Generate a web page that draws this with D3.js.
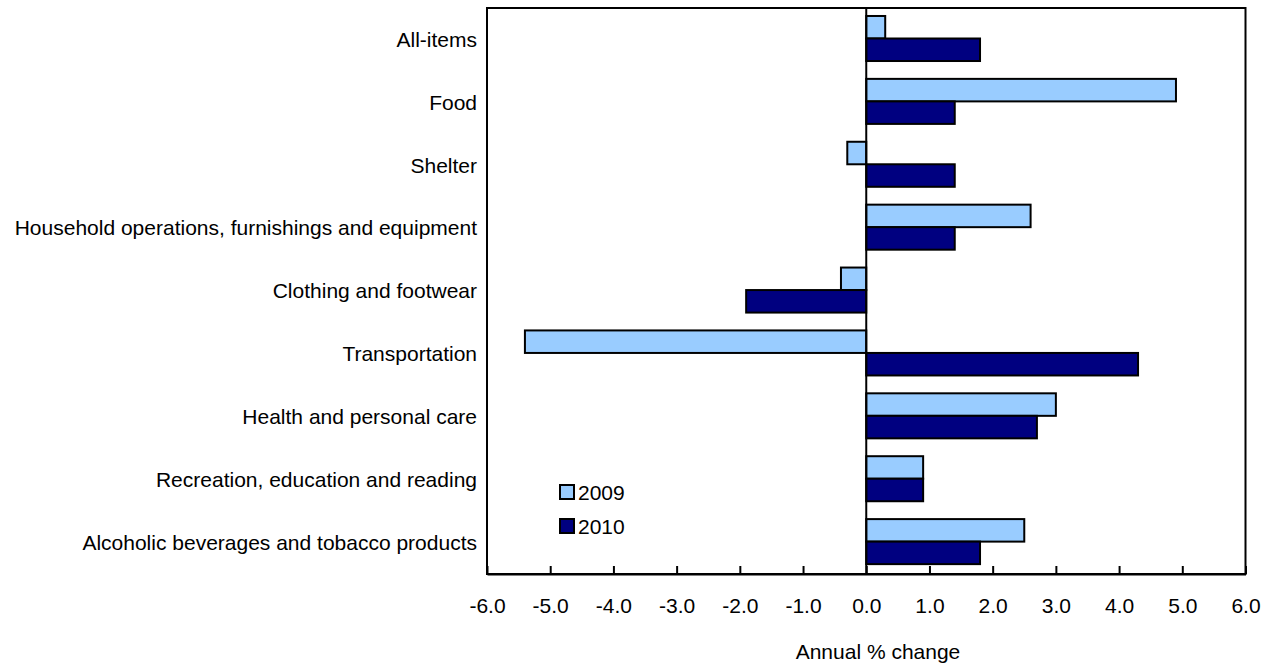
<!DOCTYPE html>
<html>
<head>
<meta charset="utf-8">
<script src="https://cdn.jsdelivr.net/npm/d3@7"></script>
<style>
  html, body { margin: 0; padding: 0; background: #fff; }
  svg { display: block; font-family: "Liberation Sans", Arial, Helvetica, sans-serif; }
</style>
</head>
<body>
<svg id="chart" width="1266" height="666"></svg>
<script>
const categories = [
  "All-items",
  "Food",
  "Shelter",
  "Household operations, furnishings and equipment",
  "Clothing and footwear",
  "Transportation",
  "Health and personal care",
  "Recreation, education and reading",
  "Alcoholic beverages and tobacco products"
];
const seriesNames = ["2009", "2010"];
const values2009 = [0.3, 4.9, -0.3, 2.6, -0.4, -5.4, 3.0, 0.9, 2.5];
const values2010 = [1.8, 1.4, 1.4, 1.4, -1.9, 4.3, 2.7, 0.9, 1.8];
const tickValues = [-6, -5, -4, -3, -2, -1, 0, 1, 2, 3, 4, 5, 6];
const tickLabels = ["-6.0", "-5.0", "-4.0", "-3.0", "-2.0", "-1.0", "0.0", "1.0", "2.0", "3.0", "4.0", "5.0", "6.0"];
const xTitle = "Annual % change";
const colors = ["#99ccff", "#000080"];

(function () {
const svg = d3.select("#chart");
const pLeft = 487, pRight = 1245.5, pTop = 8, pBottom = 574;

const x = d3.scaleLinear().domain([-6, 6]).range([pLeft, pRight]);
const y0 = d3.scaleBand().domain(categories).range([pTop, pBottom]).padding(0);
const bw = y0.bandwidth();
const y1 = d3.scaleBand().domain(seriesNames).range([bw * 0.127, bw * 0.843]).padding(0);

const data = categories.map((c, i) => ({ cat: c, vals: [values2009[i], values2010[i]] }));

// bars
const g = svg.append("g");
data.forEach(d => {
  d.vals.forEach((v, j) => {
    g.append("rect")
      .attr("x", x(Math.min(0, v)))
      .attr("width", Math.abs(x(v) - x(0)))
      .attr("y", y0(d.cat) + y1(seriesNames[j]))
      .attr("height", y1.bandwidth())
      .attr("fill", colors[j])
      .attr("stroke", "#000")
      .attr("stroke-width", 2);
  });
});

// zero line
svg.append("line")
  .attr("x1", x(0)).attr("x2", x(0))
  .attr("y1", pTop).attr("y2", pBottom)
  .attr("stroke", "#000").attr("stroke-width", 2);

// frame
svg.append("rect")
  .attr("x", pLeft).attr("y", pTop)
  .attr("width", pRight - pLeft).attr("height", pBottom - pTop)
  .attr("fill", "none").attr("stroke", "#000").attr("stroke-width", 2);

// x axis
const xAxis = d3.axisBottom(x).tickValues(tickValues)
  .tickFormat((d, i) => tickLabels[i])
  .tickSizeInner(-8).tickSizeOuter(0).tickPadding(24);
const ax = svg.append("g").attr("transform", `translate(0,${pBottom})`).call(xAxis);
ax.select(".domain").attr("stroke", "#000").attr("stroke-width", 2);
ax.selectAll(".tick line").attr("stroke", "#000").attr("stroke-width", 2);
ax.selectAll(".tick text").attr("font-size", 21).attr("fill", "#000").attr("font-family", "Liberation Sans, Arial, sans-serif");

// y labels
svg.append("g").selectAll("text").data(categories).join("text")
  .attr("x", 477)
  .attr("y", d => y0(d) + bw / 2)
  .attr("dy", "0.35em")
  .attr("text-anchor", "end")
  .attr("font-size", 21)
  .attr("fill", "#000")
  .text(d => d);

// x title
svg.append("text")
  .attr("x", 878).attr("y", 659)
  .attr("text-anchor", "middle")
  .attr("font-size", 21)
  .attr("fill", "#000")
  .text(xTitle);

// legend
const legend = svg.append("g");
seriesNames.forEach((s, j) => {
  const ly = 485 + j * 34;
  legend.append("rect")
    .attr("x", 560).attr("y", ly)
    .attr("width", 14).attr("height", 14)
    .attr("fill", colors[j]).attr("stroke", "#000").attr("stroke-width", 2);
  legend.append("text")
    .attr("x", 578).attr("y", ly + 14.5)
    .attr("font-size", 21)
    .attr("fill", "#000")
    .text(s);
});
})();
</script>
</body>
</html>
